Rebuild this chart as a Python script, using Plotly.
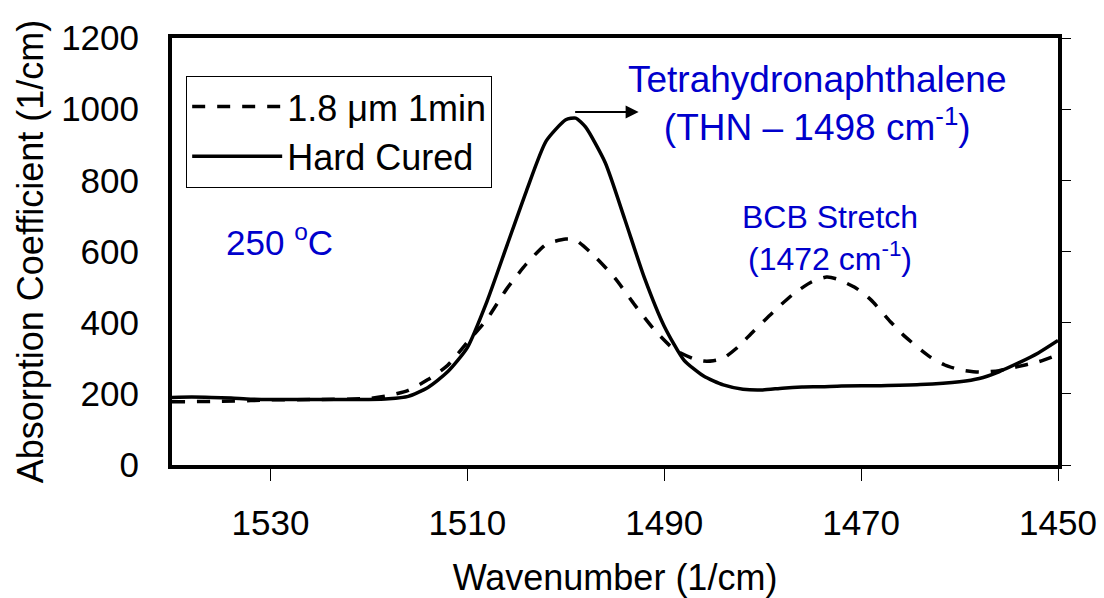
import plotly.graph_objects as go

# ---- data ----
wn_cured = [1540, 1538, 1536, 1534, 1532, 1530, 1525, 1520, 1518, 1516, 1514, 1512, 1510,
            1508, 1506, 1504, 1502, 1500, 1499, 1498, 1496, 1494, 1492, 1490, 1488, 1486,
            1484, 1482, 1480, 1478, 1476, 1474, 1472, 1468, 1464, 1460, 1458, 1456, 1454,
            1452, 1450]
abs_cured = [190, 191, 190, 188, 185, 184, 184, 184, 186, 193, 218, 262, 330,
             460, 615, 770, 910, 970, 975, 950, 850, 690, 525, 390, 295, 250,
             225, 213, 211, 216, 219, 220, 222, 223, 226, 234, 243, 262, 287,
             315, 350]

wn_1min = [1540, 1538, 1535, 1532, 1530, 1525, 1520, 1518, 1516, 1514, 1512, 1510, 1508,
           1506, 1504, 1502, 1500, 1499, 1497, 1495, 1493, 1491, 1489, 1487, 1486, 1485,
           1484, 1482.5, 1481, 1479, 1477, 1475, 1473.5, 1472.5, 1470.5, 1469, 1467,
           1465.5, 1463, 1461.5, 1460, 1458, 1456, 1454.5, 1452, 1450]
abs_1min = [178, 178, 179, 181, 183, 184, 187, 195, 210, 240, 280, 345, 410,
            495, 565, 620, 635, 632, 585, 525, 450, 380, 325, 298, 292, 293,
            300, 332, 374, 428, 478, 515, 528, 523, 497, 464, 402,
            360, 304, 281, 268, 261, 265, 274, 290, 310]

x_ticks = [1530, 1510, 1490, 1470, 1450]
y_ticks = [0, 200, 400, 600, 800, 1000, 1200]

FONT = "Arial, Liberation Sans, sans-serif"
BLUE = "#0000CC"

fig = go.Figure()
fig.add_trace(go.Scatter(x=wn_1min, y=abs_1min, mode="lines", name="1.8 μm 1min",
                         line=dict(color="black", width=3.5, dash="13px,12px", shape="spline",
                                   smoothing=0.6)))
fig.add_trace(go.Scatter(x=wn_cured, y=abs_cured, mode="lines", name="Hard Cured",
                         line=dict(color="black", width=3.5, shape="spline", smoothing=0.6)))
# invisible trace carrying the right-hand tick axis
fig.add_trace(go.Scatter(x=wn_cured, y=abs_cured, yaxis="y2", mode="lines",
                         line=dict(width=0), showlegend=False, hoverinfo="skip", opacity=0))

fig.update_layout(
    width=1104, height=598,
    margin=dict(l=172, r=46, t=38, b=133),
    paper_bgcolor="white", plot_bgcolor="white",
    font=dict(family=FONT, size=36, color="black"),
    showlegend=True,
    legend=dict(x=0.016, y=0.912, xanchor="left", yanchor="top",
                bordercolor="black", borderwidth=1, bgcolor="white",
                font=dict(size=36), itemwidth=90, tracegroupgap=0),
    xaxis=dict(range=[1540, 1450], tickvals=x_ticks, ticks="outside", ticklen=12,
               tickwidth=1, tickcolor="black", showline=True, linewidth=4, linecolor="black",
               mirror=True, showgrid=False, zeroline=False, ticklabelstandoff=12,
               tickfont=dict(size=35), automargin=False,
               title=dict(text="Wavenumber (1/cm)", font=dict(size=36), standoff=28)),
    yaxis=dict(range=[0, 1200], tickvals=y_ticks, ticks="", showline=True, linewidth=4,
               linecolor="black", mirror=True, showgrid=False, zeroline=False,
               ticklabelstandoff=22, tickfont=dict(size=35), automargin=False,
               title=dict(text="Absorption Coefficient (1/cm)", font=dict(size=36), standoff=8)),
    yaxis2=dict(range=[0, 1200], tickvals=y_ticks, overlaying="y", side="right",
                ticks="outside", ticklen=12, tickwidth=1, tickcolor="black",
                showticklabels=False, showgrid=False, zeroline=False, showline=False,
                automargin=False),
)

fig.add_annotation(x=1474.4, y=1016, xref="x", yref="y", showarrow=False,
                   text="Tetrahydronaphthalene<br>(THN – 1498 cm<sup>-1</sup>)",
                   font=dict(size=37, color=BLUE, family=FONT), align="center")
fig.add_annotation(x=1492.6, y=992, ax=1499.2, ay=992, xref="x", yref="y",
                   axref="x", ayref="y", text="", showarrow=True, arrowhead=2,
                   arrowsize=1.3, arrowwidth=2, arrowcolor="black")
fig.add_annotation(x=1473.2, y=638, xref="x", yref="y", showarrow=False,
                   text="BCB Stretch<br>(1472 cm<sup>-1</sup>)",
                   font=dict(size=32, color=BLUE, family=FONT), align="center")
fig.add_annotation(x=1529.1, y=632, xref="x", yref="y", showarrow=False,
                   text="250 <sup>o</sup>C",
                   font=dict(size=35, color=BLUE, family=FONT))

fig.write_html("out.html")
